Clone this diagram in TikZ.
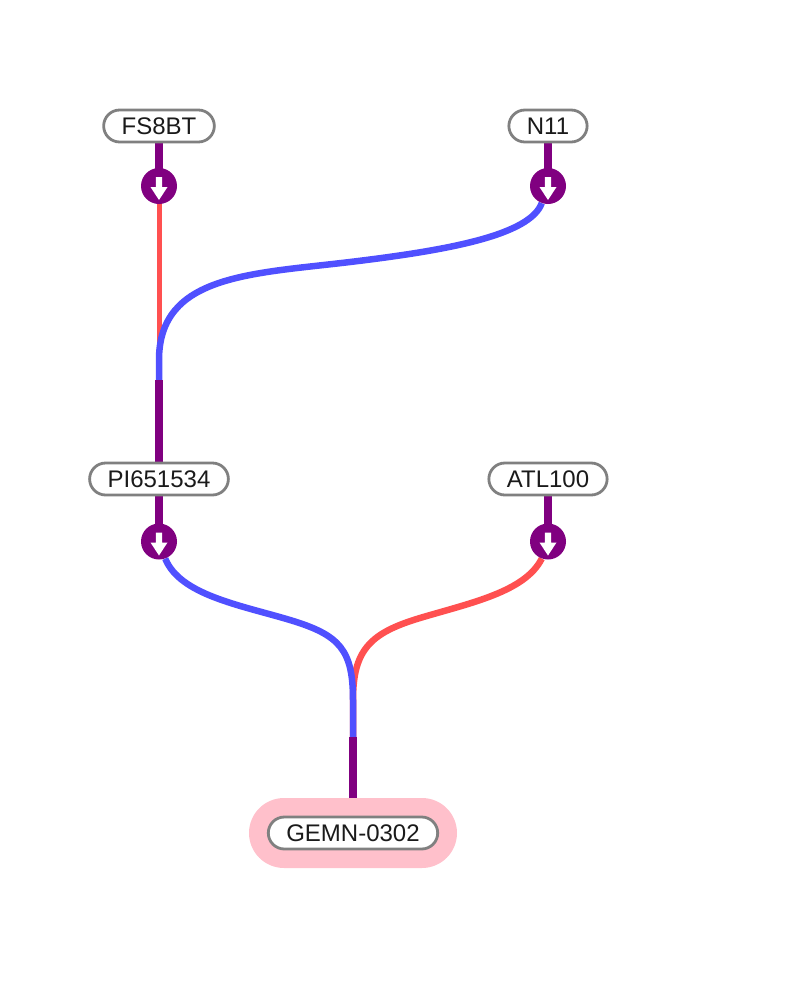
\documentclass[tikz,border=0pt]{standalone}
\usepackage{fontspec}
\setmainfont{Liberation Sans}
\pgfdeclarelayer{bg}
\pgfsetlayers{bg,main}
\definecolor{lpurple}{HTML}{800080}
\definecolor{lblue}{HTML}{5050FF}
\definecolor{lred}{HTML}{FF5050}
\definecolor{lgray}{HTML}{808080}
\definecolor{lpink}{HTML}{FFC0CB}
\definecolor{ltext}{HTML}{1A1A1A}
\begin{document}
\begin{tikzpicture}[x=1pt,y=-1pt,
  lbl/.style={rectangle, rounded corners=16pt, draw=lgray, line width=2.8pt, fill=white,
    minimum height=32pt, inner xsep=18pt, inner ysep=0pt,
    font=\fontsize{24}{28}\selectfont, text=ltext},
  halo/.style={rectangle, rounded corners=35pt, fill=lpink, minimum width=208pt, minimum height=70pt},
  port/.style={circle, fill=lpurple, minimum size=36pt, inner sep=0pt},
  plink/.style={lpurple, line width=7.5pt},
  blink/.style={lblue, line width=6.5pt},
  rlink/.style={lred, line width=6.5pt},
  rthin/.style={lred, line width=5pt},
  downarrow/.pic={\fill[white] (-3.2,-9) -- (3.2,-9) -- (3.2,1) -- (8.5,1) -- (0,14) -- (-8.5,1) -- (-3.2,1) -- cycle;}
]
\useasboundingbox (0,0) rectangle (800,997);

% halo
\node[halo] (halo) at (353,833) {};

% nodes
\node[lbl] (fs) at (159,126) {FS8BT};
\node[lbl] (n11) at (548,126) {N11};
\node[lbl] (pi) at (159,479) {PI651534};
\node[lbl] (atl) at (548,479) {ATL100};
\node[lbl] (gemn) at (353,833) {GEMN-0302};

% ports
\node[port] (fsp) at (159,186) {};
\node[port] (n11p) at (548,186) {};
\node[port] (pip) at (159,541.5) {};
\node[port] (atlp) at (548,541.5) {};
\pic at (fsp) {downarrow};
\pic at (n11p) {downarrow};
\pic at (pip) {downarrow};
\pic at (atlp) {downarrow};

\coordinate (j1) at (159,380);
\coordinate (j2) at (353,737);

\begin{pgfonlayer}{bg}
  % node to port stubs
  \draw[plink] (fs.center) -- (fsp.center);
  \draw[plink] (n11.center) -- (n11p.center);
  \draw[plink] (pi.center) -- (pip.center);
  \draw[plink] (atl.center) -- (atlp.center);
  % top
  \draw[rthin] (fsp.center) -- (j1);
  \draw[blink] (n11p.250) .. controls (530,235) and (450,250) .. (350,262)
     .. controls (250,274) and (159,275) .. (159,360) -- (j1);
  \draw[plink] (j1) -- (pi.center);
  % bottom
  \draw[rlink] (atlp.250) .. controls (525,592) and (470,603) .. (420,618)
     .. controls (370,633) and (353,650) .. (353,700) -- (j2);
  \draw[blink] (pip.290) .. controls (180,595) and (240,605) .. (290,620)
     .. controls (340,635) and (353,650) .. (353,700) -- (j2);
  \draw[plink] (j2) -- (gemn.center);
\end{pgfonlayer}
\end{tikzpicture}
\end{document}
